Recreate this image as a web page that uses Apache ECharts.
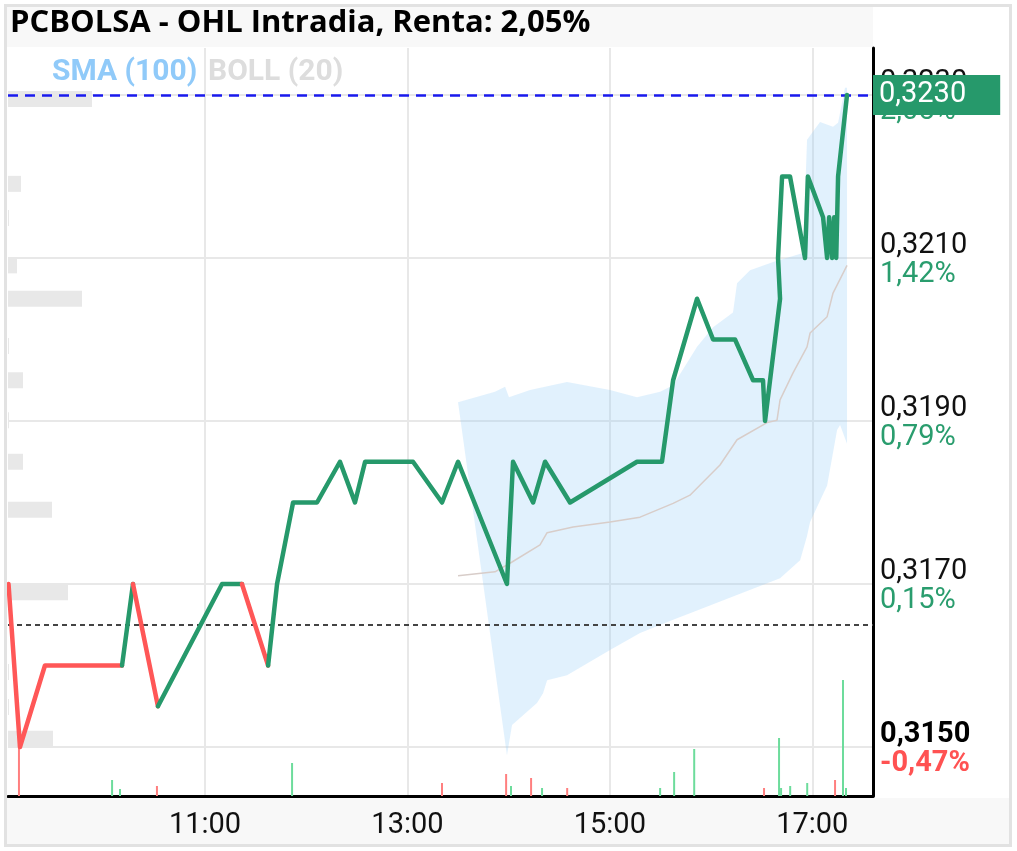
<!DOCTYPE html>
<html><head><meta charset="utf-8">
<script src="https://cdn.jsdelivr.net/npm/echarts@6/dist/echarts.min.js"></script>
<style>html,body{margin:0;padding:0;background:#fff}#c{width:1017px;height:851px}</style>
</head><body><div id="c"></div><script>
// ---------- DATA ----------
const titleText = 'PCBOLSA - OHL Intradia, Renta: 2,05%';
const prevClose = 0.3165;
const lastPrice = 0.3230;
const lastPriceLabel = '0,3230';
// time in minutes since midnight
const priceTimes = [543.5, 550.3, 565.1, 610.8, 617.3, 632.1, 670.1, 681.9, 697.4, 702.7, 712.2, 726.4, 740.0, 748.9, 754.9, 783.3, 800.5, 810.0, 839.0, 842.6, 854.5, 861.6, 876.4, 916.1, 930.9, 937.5, 951.7, 961.2, 974.2, 984.9, 990.8, 992.0, 1000.9, 999.7, 1002.1, 1006.8, 1015.7, 1017.4, 1026.4, 1028.8, 1030.0, 1031.8, 1033.0, 1034.2, 1035.3, 1040.6];
const prices = [0.3170, 0.3150, 0.3160, 0.3160, 0.3170, 0.3155, 0.3170, 0.3170, 0.3160, 0.3170, 0.3180, 0.3180, 0.3185, 0.3180, 0.3185, 0.3185, 0.3180, 0.3185, 0.3170, 0.3185, 0.3180, 0.3185, 0.3180, 0.3185, 0.3185, 0.3195, 0.3205, 0.3200, 0.3200, 0.3195, 0.3195, 0.3190, 0.3205, 0.3210, 0.3220, 0.3220, 0.3210, 0.3220, 0.3215, 0.3210, 0.3215, 0.3210, 0.3215, 0.3210, 0.3220, 0.3230];

const volTimes = [549.7, 604.9, 609.6, 631.5, 711.6, 800.5, 838.5, 841.4, 853.3, 859.8, 874.7, 929.8, 938.1, 950.0, 991.4, 1000.3, 1001.5, 1006.9, 1017.0, 1033.5, 1038.2, 1040.0];
const volValues = [51, 16, 7, 10, 33, 13, 22, 10, 18, 8, 8, 8, 24, 47, 8, 58, 8, 10, 13, 16, 116, 8];
const volUp = [0, 1, 1, 0, 1, 0, 0, 1, 0, 1, 0, 1, 1, 1, 0, 1, 1, 1, 1, 0, 1, 1];

const profilePrices = [0.32295, 0.32191, 0.32149, 0.32091, 0.32050, 0.31992, 0.31950, 0.31901, 0.31850, 0.31791, 0.31690, 0.31592, 0.31549, 0.31510];
const profileVolumes = [84, 13, 1, 9, 74, 1, 15, 1, 15, 44, 60, 1, 1, 45];

const bollUpperTimes = [810.0, 831.9, 837.9, 840.2, 852.7, 874.6, 900.1, 916.1, 929.8, 937.5, 951.7, 961.2, 973.0, 975.4, 983.1, 996.8, 1014.5, 1016.9, 1024.6, 1032.3, 1035.3, 1039.4, 1040.6];
const bollUpper = [0.31923, 0.31936, 0.31942, 0.31929, 0.31938, 0.31948, 0.31938, 0.31929, 0.31936, 0.31944, 0.31991, 0.32015, 0.32033, 0.32069, 0.32085, 0.32095, 0.32106, 0.32245, 0.32267, 0.32261, 0.32266, 0.32309, 0.32309];
const bollLowerTimes = [810.0, 839.0, 842.0, 856.8, 860.4, 862.8, 874.6, 900.1, 917.9, 937.5, 947.5, 977.2, 1000.9, 1012.8, 1016.9, 1018.7, 1028.8, 1034.7, 1036.5, 1040.6];
const bollLower = [0.31923, 0.31490, 0.31527, 0.31554, 0.31566, 0.31582, 0.31588, 0.31619, 0.31640, 0.31656, 0.31664, 0.31688, 0.31707, 0.31729, 0.31759, 0.31776, 0.31821, 0.31889, 0.31895, 0.31872];
const bollMidTimes = [810.0, 831.9, 842.0, 858.6, 862.8, 878.2, 900.1, 917.9, 937.5, 947.5, 965.3, 975.4, 993.2, 999.1, 1000.9, 1008.6, 1016.9, 1018.7, 1028.8, 1032.3, 1040.6];
const bollMid = [0.31710, 0.31715, 0.31727, 0.31748, 0.31763, 0.31770, 0.31776, 0.31782, 0.31799, 0.31809, 0.31846, 0.31877, 0.31898, 0.31901, 0.31926, 0.31959, 0.31991, 0.32008, 0.32028, 0.32057, 0.32091];

const xTickValues = [660, 780, 900, 1020];
const xTickLabels = ['11:00', '13:00', '15:00', '17:00'];
const yTickValues = [0.3150, 0.3170, 0.3190, 0.3210, 0.3230];
const yTickLabels = ['0,3150', '0,3170', '0,3190', '0,3210', '0,3230'];
const yTickPct = ['-0,47%', '0,15%', '0,79%', '1,42%', '2,05%'];
const legendItems = ['SMA (100)', 'BOLL (20)'];

// ---------- CHART ----------
const GREEN = '#26996b', RED = '#ff5757';
const AXFONT = 'Roboto';
const AXSIZE = 29;
const chart = echarts.init(document.getElementById('c'), null, {renderer: 'canvas'});

const runs = [];
for (let i = 1; i < prices.length; i++) {
  const up = prices[i] >= prevClose;
  const last = runs[runs.length - 1];
  if (last && last.up === up) last.pts.push([priceTimes[i], prices[i]]);
  else runs.push({up, pts: [[priceTimes[i - 1], prices[i - 1]], [priceTimes[i], prices[i]]]});
}
const runSeries = runs.map(r => ({
  type: 'line', xAxisIndex: 0, yAxisIndex: 0, data: r.pts, showSymbol: false, symbol: 'none',
  lineStyle: {color: r.up ? GREEN : RED, width: 4.5, join: 'round', cap: 'round'}, z: 6, silent: true
}));

function idxOf(arr, v) { let b = 0; for (let i = 1; i < arr.length; i++) if (Math.abs(arr[i] - v) < Math.abs(arr[b] - v)) b = i; return b; }

const option = {
  animation: false,
  backgroundColor: '#fff',
  graphic: [
    {type: 'rect', shape: {x: 7, y: 7, width: 866, height: 40}, style: {fill: '#f8f8f8'}, z: -1},
    {type: 'rect', shape: {x: 7, y: 798, width: 1003, height: 46}, style: {fill: '#f8f8f8'}, z: -1},
    {type: 'rect', shape: {x: 5.5, y: 5.5, width: 1005, height: 840}, style: {fill: 'none', stroke: '#e2e2e2', lineWidth: 3}, z: 10},
    {type: 'text', left: 10, top: 8, style: {text: titleText, font: 'bold 31px "Open Sans"', fill: '#000'}, z: 10},
    {type: 'text', left: 52, top: 57, style: {text: legendItems[0], font: 'bold 30px Roboto', fill: '#90caf9'}, z: 10},
    {type: 'text', left: 208, top: 57, style: {text: legendItems[1], font: 'bold 30px Roboto', fill: '#dddddd'}, z: 10}
  ],
  grid: [
    {left: 8, right: 144, top: 48, bottom: 55},
    {left: 8, right: 144, top: 646, bottom: 55}
  ],
  xAxis: [
    {type: 'value', gridIndex: 0, min: 543.2, max: 1056, position: 'bottom',
     axisLine: {show: true, onZero: false, lineStyle: {color: '#000', width: 3}},
     axisTick: {show: false, customValues: xTickValues},
     axisLabel: {customValues: xTickValues, formatter: v => xTickLabels[idxOf(xTickValues, v)], margin: 15,
       fontSize: AXSIZE, lineHeight: 29, fontFamily: AXFONT, color: '#111'},
     splitLine: {show: true, lineStyle: {color: '#e8e8e8', width: 2}}},
    {type: 'value', gridIndex: 1, min: 543.2, max: 1056, show: false},
    {type: 'value', gridIndex: 0, min: 0, max: 865, show: false}
  ],
  yAxis: [
    {type: 'value', gridIndex: 0, position: 'right', min: 0.3143988, max: 0.3235767, scale: true,
     axisLine: {show: true, onZero: false, lineStyle: {color: '#000', width: 3}},
     axisTick: {show: false, customValues: yTickValues},
     axisLabel: {customValues: yTickValues, margin: 7, align: 'left',
       formatter: v => { const i = idxOf(yTickValues, v); return i === 0 ? `{pb|${yTickLabels[i]}}\n{nb|${yTickPct[i]}}` : `{p|${yTickLabels[i]}}\n{g|${yTickPct[i]}}`; },
       padding: [5, 0, 0, 0],
       rich: {
         p: {fontSize: AXSIZE, lineHeight: 29, fontFamily: AXFONT, color: '#111'},
         g: {fontSize: AXSIZE, lineHeight: 29, fontFamily: AXFONT, color: '#2a9d6e'},
         pb: {fontSize: AXSIZE, lineHeight: 29, fontFamily: AXFONT, fontWeight: 'bold', color: '#000'},
         nb: {fontSize: AXSIZE, lineHeight: 29, fontFamily: AXFONT, fontWeight: 'bold', color: '#ff5252'}
       }},
     splitLine: {show: true, lineStyle: {color: '#e8e8e8', width: 2}}},
    {type: 'value', gridIndex: 1, min: 0, max: 150, show: false}
  ],
  series: [
    {type: 'custom', xAxisIndex: 0, yAxisIndex: 0, z: 1, silent: true,
     data: [[bollUpperTimes[0], bollUpper[0]]],
     renderItem: (params, api) => {
       const pts = [];
       for (let i = 0; i < bollUpper.length; i++) pts.push(api.coord([bollUpperTimes[i], bollUpper[i]]));
       for (let i = bollLower.length - 1; i >= 0; i--) pts.push(api.coord([bollLowerTimes[i], bollLower[i]]));
       return {type: 'polygon', shape: {points: pts}, style: {fill: 'rgba(144,202,249,0.27)'}};
     }},
    {type: 'custom', xAxisIndex: 2, yAxisIndex: 0, z: 2, silent: true,
     data: profilePrices.map((p, i) => [profileVolumes[i], p]),
     renderItem: (params, api) => {
       const a = api.coord([0, api.value(1)]), b = api.coord([api.value(0), api.value(1)]);
       return {type: 'rect', shape: {x: a[0], y: a[1] - 8, width: b[0] - a[0], height: 16}, style: {fill: '#e8e8e8'}};
     }},
    {type: 'bar', xAxisIndex: 1, yAxisIndex: 1, barWidth: 2, z: 3, silent: true,
     data: volTimes.map((t, i) => ({value: [t, volValues[i]], itemStyle: {color: volUp[i] ? '#6ddc9c' : '#ff7f7f'}}))},
    {type: 'line', xAxisIndex: 0, yAxisIndex: 0, z: 4, silent: true, showSymbol: false, symbol: 'none',
     data: bollMidTimes.map((t, i) => [t, bollMid[i]]),
     lineStyle: {color: '#d8cdc9', width: 1.5}},
    ...runSeries,
    {type: 'line', xAxisIndex: 0, yAxisIndex: 0, z: 7, silent: true, symbol: 'none',
     data: [[priceTimes[priceTimes.length - 1], lastPrice]], lineStyle: {opacity: 0},
     markLine: {symbol: ['none', 'none'], silent: true, animation: false, precision: 6,
       data: [
         {yAxis: lastPrice, lineStyle: {color: '#1a1aee', width: 2.5, type: [10, 7]},
          label: {show: true, position: 'end', distance: 0, formatter: lastPriceLabel, color: '#fff',
            backgroundColor: '#26996b', fontSize: AXSIZE, fontFamily: AXFONT, padding: [6, 34, 6, 6], lineHeight: 28}},
         {yAxis: prevClose, lineStyle: {color: '#444', width: 2, type: [5, 4]}, label: {show: false}}
       ]}}
  ]
};
chart.setOption(option);
</script></body></html>
